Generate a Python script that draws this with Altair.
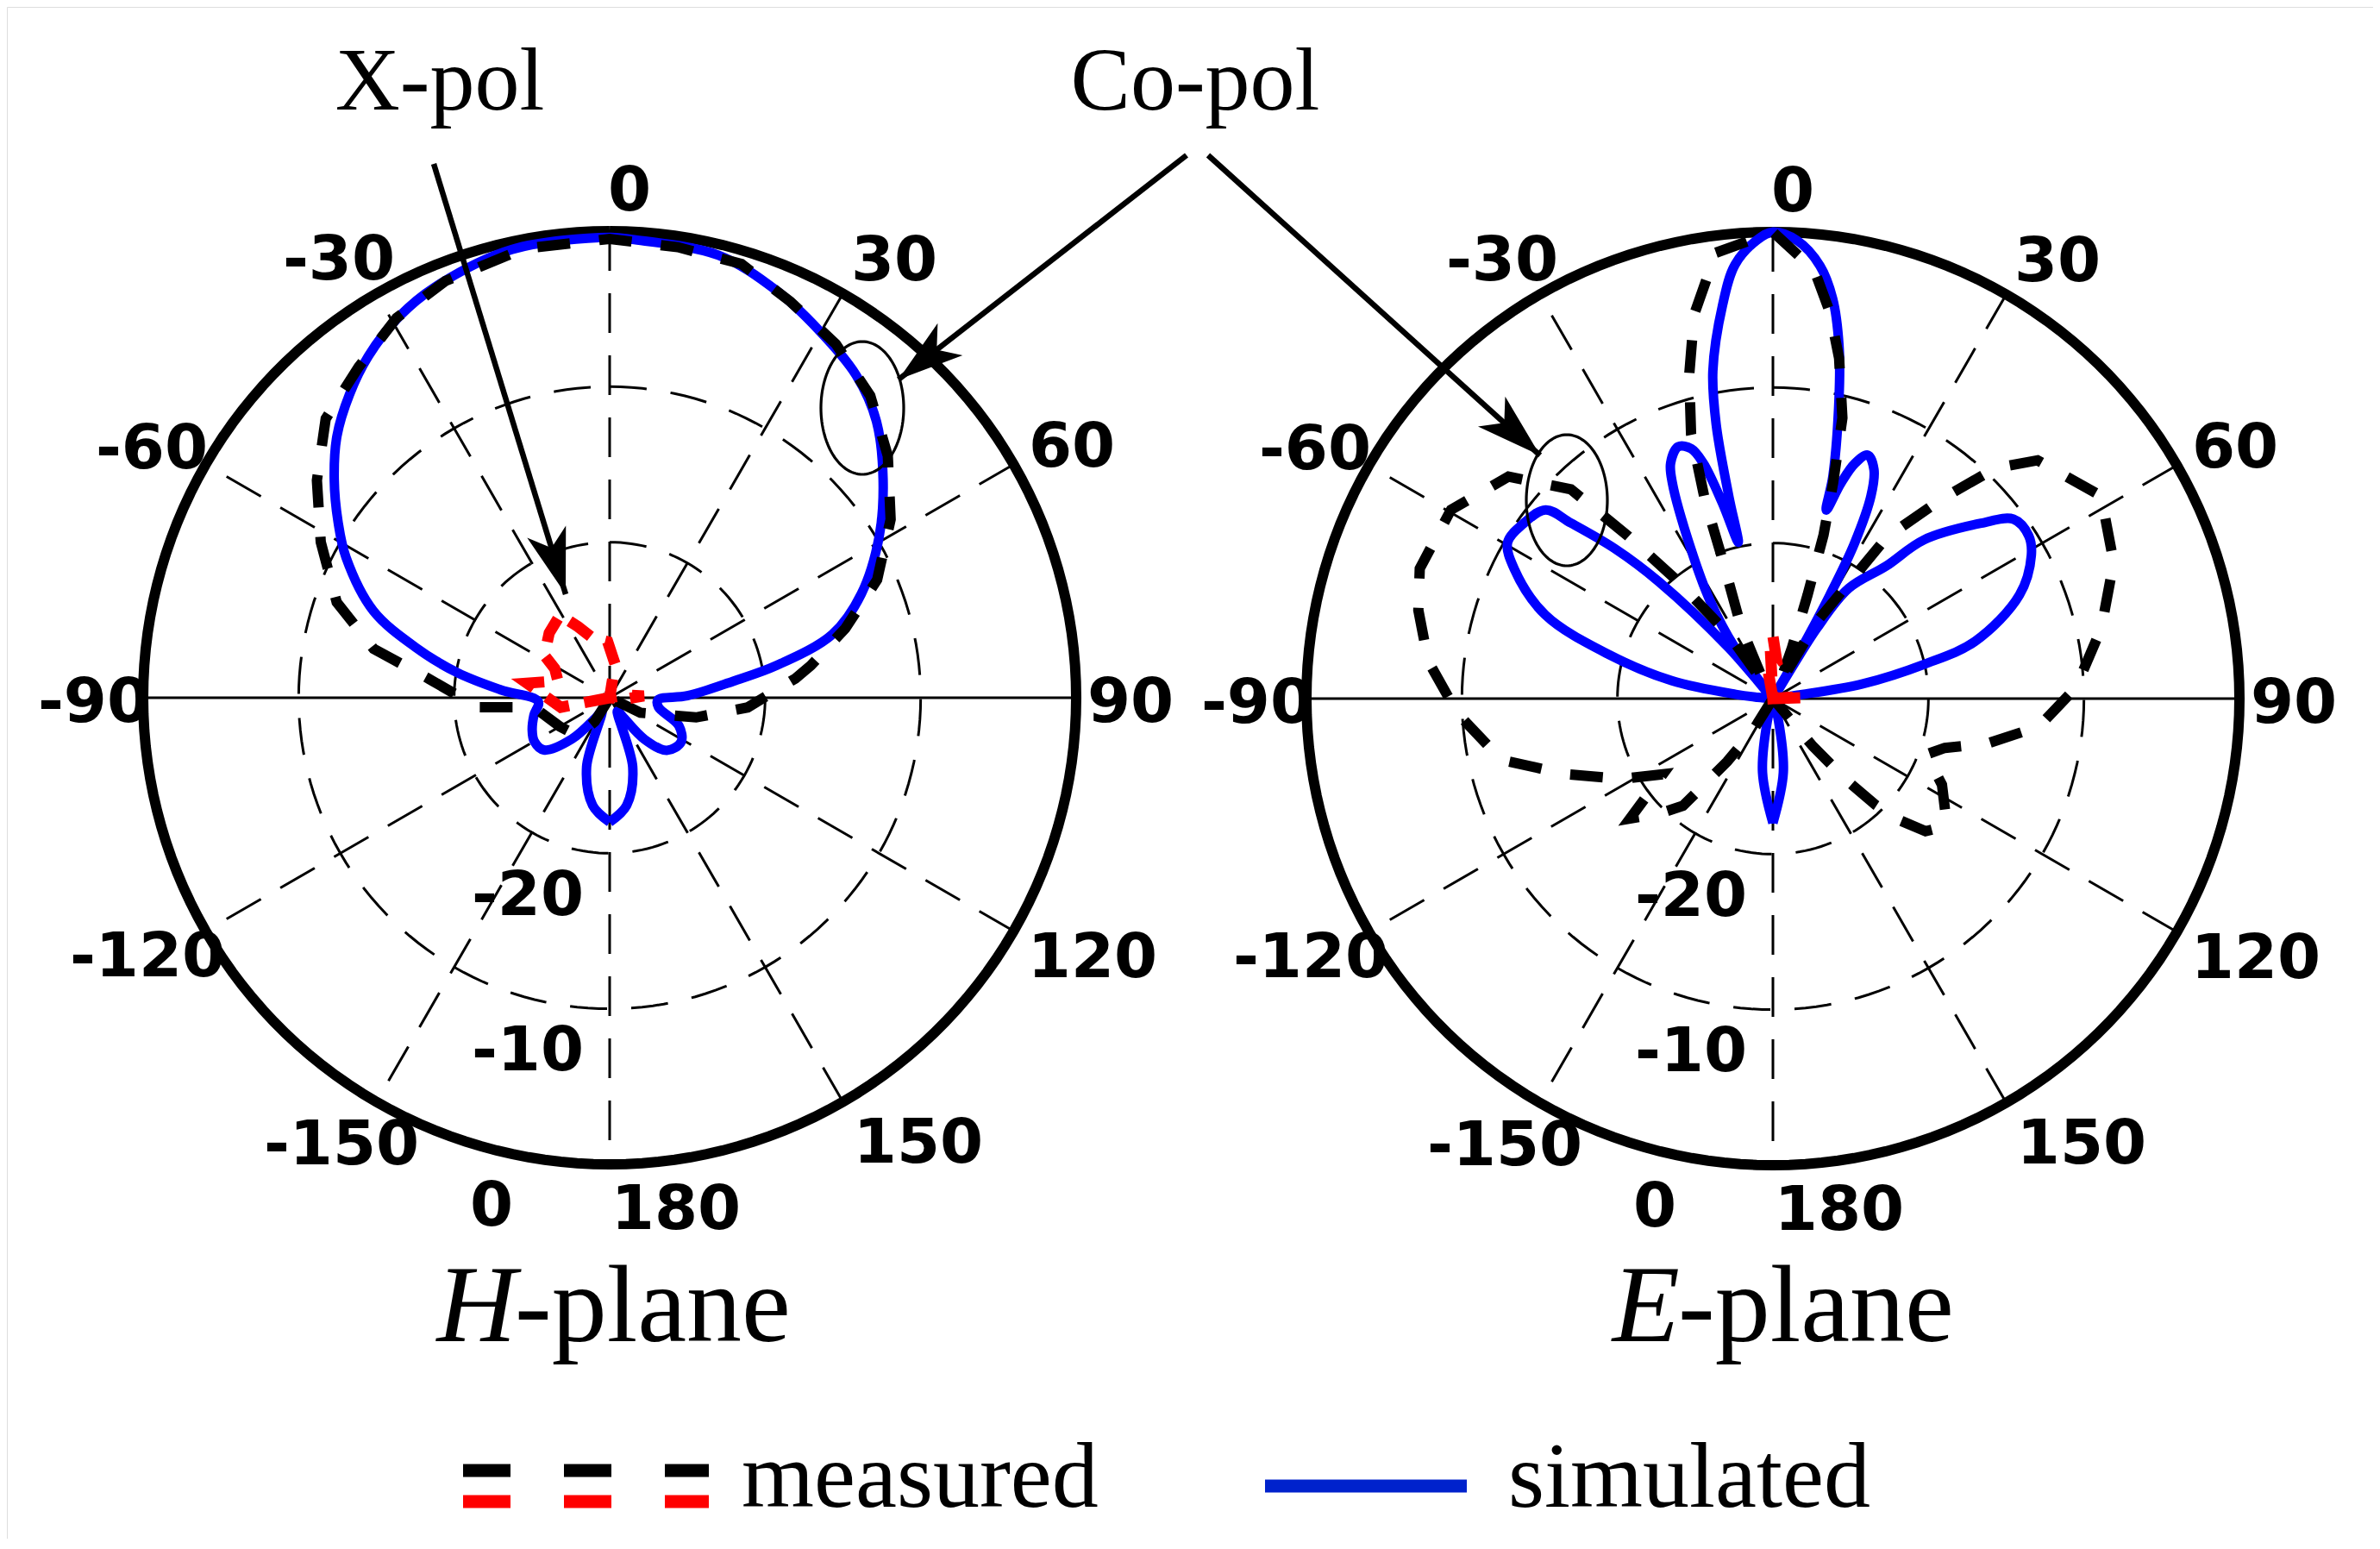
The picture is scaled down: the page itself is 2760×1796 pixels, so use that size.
import altair as alt
import pandas as pd
import numpy as np

# ---------------- data (angle in degrees, level in dB) ----------------
H_SIM_ANG = [-180, -171, -161.6, -150, -145, -137.5, -128.4, -120, -112.7, -103, -93, -85.9, -80.7, -75.6,
             -69.8, -62, -57.1, -51.6, -46.2, -40.6, -35.2, -28.9, -23, -12.3, 0, 2.8, 13.8, 22.2, 29.6, 37.4,
             44, 51.4, 59.1, 67.6, 74.1, 79.1, 82.4, 88.5, 92.7, 101, 112, 121.6, 132.6, 140, 145, 150, 161.6,
             171, 180]
H_SIM_DB = [-22, -23, -25.3, -29, -28.4, -26.4, -24.6, -24.4, -24.6, -25, -25.4, -23, -20.1, -17.2, -13.8,
            -10.8, -9.2, -7.4, -5.7, -4.3, -3.1, -2.0, -1.3, -0.5, -0.4, -0.5, -0.7, -1.7, -2.8, -3.9, -5.3,
            -7.5, -9.8, -12.5, -15.1, -19.1, -22, -25, -26.9, -26.8, -25.2, -24.6, -25, -26.5, -28.4, -29,
            -25.3, -23, -22]

H_MEAS_ANG = [-160, -148, -140, -120, -97.2, -94.1, -84, -78.3, -70.7, -61.7, -53.4, -45.5, -37.2, -29.3,
              -21.5, -10.8, 0, 8.6, 16.9, 24.5, 32.6, 40.8, 49, 57.6, 66.2, 73.6, 80.9, 84.1, 94, 102.8, 116,
              125, 135]
H_MEAS_DB = [-31, -28.2, -26.8, -26.3, -25.1, -21.5, -18.3, -14.5, -11.4, -8.9, -6.55, -4.4, -3.3, -2, -1.2,
             -0.6, -0.5, -0.7, -0.85, -2, -3, -4.35, -6.3, -8.6, -11.2, -14.2, -16.9, -18, -21.1, -24.3, -27.8,
             -31, -31]

H_XPOL_ANG = [-120, -101, -90, -80, -72, -62, -57, -43, -31, -24, -16, -2, 9, 20, 60, 80, 87, 95, 110]
H_XPOL_DB = [-31, -26.8, -26, -24.6, -26.5, -26, -25, -24.3, -23.8, -25, -26, -26.4, -27.8, -31, -31, -29,
             -27.8, -29, -31]

E_SIM_ANG = [-180, -172, -166, -160, -90, -85, -83.5, -80, -75, -69.8, -63.4, -59.5, -55, -50.3, -49, -46.5,
             -44.3, -41, -38.5, -36.7, -32.7, -28.7, -25, -23.5, -20.6, -18.1, -16.5, -14.5, -12.5, -12.3,
             -11.7, -10.4, -7.3, -5, -2, 0, 3, 6.2, 8.5, 10.6, 12.4, 15.1, 15.8, 17.5, 19.2, 21.3, 23.8, 25.8,
             27.7, 28.8, 29.8, 31, 32, 34.5, 40.5, 43.6, 49.9, 53.3, 57.5, 61, 67.2, 74.2, 77.2, 80.7, 82, 85,
             160, 166, 172, 180]
E_SIM_DB = [-22, -25.2, -28.5, -31, -31, -29, -27.6, -23.4, -19.1, -14.4, -11.4, -10.2, -10.4, -11, -12.8, -16,
            -19.5, -25.7, -30, -25.9, -22.5, -19, -14.7, -13.5, -12.7, -13.1, -14.2, -17, -19.7, -16.7, -12,
            -8.6, -4.5, -2, -0.5, 0, -0.5, -2, -4, -6.9, -10.2, -15.2, -17.4, -15.5, -14, -13.2, -13.9, -15.5,
            -18.7, -22.4, -26.7, -30, -24.7, -21.4, -18.8, -15.9, -12.5, -10.7, -10.5, -11, -12.8, -16.5, -20,
            -24.2, -28.4, -31, -31, -28.5, -25.2, -22]

E_MEAS_ANG = [-180, -158, -148, -144, -140, -135, -130, -124.5, -118, -110, -102.7, -92.7, -83.8, -76, -69.8,
              -59.6, -50, -44, -41.7, -39, -34.6, -30, -24, -19.9, -18.9, -17.2, -14.5, -11.6, -7.3, 0, 5.5,
              8.4, 11, 13.9, 15.6, 17.2, 18.5, 20.5, 24, 29.7, 32.7, 35.2, 40.2, 44, 48, 58.3, 68.2, 77.9, 87.9,
              96, 101.8, 106, 110, 117, 124, 127, 131, 134, 136, 138, 140, 143, 180]
E_MEAS_DB = [-31, -31, -27.6, -25, -21, -19.5, -18, -21.4, -19, -15.8, -12.1, -9.7, -7.7, -6.5, -5.8, -6, -7.8,
             -11.3, -16, -20.3, -25, -29, -25, -20.4, -16.5, -12.2, -8.5, -4.8, -1.1, 0, -2.3, -4.9, -7.7,
             -11.4, -15.6, -19, -23, -26.5, -29, -24.3, -21.9, -17.3, -13.2, -9.4, -7.1, -5.2, -6.4, -8.4,
             -10.5, -12.8, -15.9, -18.5, -19.5, -17.8, -16.6, -16.3, -17, -18.8, -20.5, -23, -26, -30, -31]

E_XPOL_ANG = [-20, -10, 6, 0, -3, 10, 30, 85, 88, 95, 120]
E_XPOL_DB = [-31, -28, -27.6, -26, -26.5, -30, -31, -29, -28, -30, -31]

ANGLE_TICKS = ["0", "30", "60", "90", "120", "150", "180", "-150", "-120", "-90", "-60", "-30"]
RADIAL_TICKS = ["-20", "-10", "0"]
RADIAL_LEVELS = [-20, -10]
SPOKES = [0, 30, 60, 120, 150]

# ---------------- layout constants ----------------
K = 541 / 30.0                     # pixels per dB of radius
FLOOR = -30
PANELS = {"H": (707, 809), "E": (2056, 810)}
ANG_OFF = [(23, -589), (330, -508), (536, -292), (604, 4), (560, 300), (358, 515), (77, 592),
           (-311, 517), (-536, 299), (-598, 4), (-531, -290), (-314, -509)]
RAD_OFF = [(-95, 228), (-95, 408), (-137, 588)]

XS = alt.Scale(domain=[8, 2752], nice=False, zero=False)
YS = alt.Scale(domain=[8, 1784], nice=False, zero=False, reverse=True)

PX = f"datum.cx + {K} * (max(datum.db, {FLOOR}) - ({FLOOR})) * sin(datum.ang * PI / 180)"
PY = f"datum.cy - {K} * (max(datum.db, {FLOOR}) - ({FLOOR})) * cos(datum.ang * PI / 180)"


def curve_table(ang, db, panel):
    cx, cy = PANELS[panel]
    return pd.DataFrame({"ang": ang, "db": db, "cx": cx, "cy": cy, "panel": panel,
                         "i": range(len(ang))})


def polar_line(df, **mark):
    return alt.Chart(df).mark_line(**mark).transform_calculate(px=PX, py=PY).encode(
        x=alt.X("px:Q", scale=XS, axis=None),
        y=alt.Y("py:Q", scale=YS, axis=None),
        detail="key:N",
        order="i:Q",
    )


# ---------------- grid ----------------
circ_rows = []
theta = np.linspace(0, 360, 181)
for p, (cx, cy) in PANELS.items():
    for lev in RADIAL_LEVELS + [0]:
        for j, a in enumerate(theta):
            circ_rows.append({"ang": a, "db": lev, "cx": cx, "cy": cy, "i": j, "key": f"{p}{lev}"})
circ = pd.DataFrame(circ_rows)

dashed_circles = polar_line(circ[circ.db < 0], color="black", strokeWidth=3, strokeDash=[43, 28])
outer_circles = polar_line(circ[circ.db == 0], color="black", strokeWidth=12)

spoke_rows = []
for p, (cx, cy) in PANELS.items():
    for a in SPOKES + [90]:
        spoke_rows.append({"ang": a, "cx": cx, "cy": cy, "solid": a == 90})
spk = pd.DataFrame(spoke_rows)
SX1 = f"datum.cx + {K * 30} * sin(datum.ang * PI / 180)"
SY1 = f"datum.cy - {K * 30} * cos(datum.ang * PI / 180)"
SX2 = f"datum.cx - {K * 30} * sin(datum.ang * PI / 180)"
SY2 = f"datum.cy + {K * 30} * cos(datum.ang * PI / 180)"


def spoke_layer(df, **mark):
    return alt.Chart(df).mark_rule(**mark).transform_calculate(
        x1=SX1, y1=SY1, x2=SX2, y2=SY2).encode(
        x=alt.X("x1:Q", scale=XS, axis=None), y=alt.Y("y1:Q", scale=YS, axis=None),
        x2="x2:Q", y2="y2:Q")


spokes_d = spoke_layer(spk[~spk.solid], color="black", strokeWidth=3, strokeDash=[46, 26])
spokes_s = spoke_layer(spk[spk.solid], color="black", strokeWidth=3)

# ---------------- curves ----------------
sim = pd.concat([curve_table(H_SIM_ANG, H_SIM_DB, "H"), curve_table(E_SIM_ANG, E_SIM_DB, "E")])
sim["key"] = sim["panel"]
meas = pd.concat([curve_table(H_MEAS_ANG, H_MEAS_DB, "H"), curve_table(E_MEAS_ANG, E_MEAS_DB, "E")])
meas["key"] = meas["panel"]
xpol = pd.concat([curve_table(H_XPOL_ANG, H_XPOL_DB, "H"), curve_table(E_XPOL_ANG, E_XPOL_DB, "E")])
xpol["key"] = xpol["panel"]

sim_h = polar_line(sim[sim.panel == "H"], color="#0000ff", strokeWidth=11, interpolate="catmull-rom",
                   strokeJoin="round")
sim_e = polar_line(sim[sim.panel == "E"], color="#0000ff", strokeWidth=11, interpolate="catmull-rom",
                   strokeJoin="round")
meas_layer = polar_line(meas, color="black", strokeWidth=12, strokeDash=[38, 34], strokeCap="butt")
xpol_layer = polar_line(xpol, color="#ff0000", strokeWidth=13, strokeDash=[30, 18], strokeCap="butt")

# ---------------- tick labels ----------------
lab_rows = []
for p, (cx, cy) in PANELS.items():
    for t, (dx, dy) in zip(ANGLE_TICKS, ANG_OFF):
        lab_rows.append({"t": t, "x": cx + dx, "y": cy + dy})
    for t, (dx, dy) in zip(RADIAL_TICKS, RAD_OFF):
        lab_rows.append({"t": t, "x": cx + dx, "y": cy + dy})
labels = alt.Chart(pd.DataFrame(lab_rows)).mark_text(
    font="DejaVu Sans", fontWeight="bold", fontSize=72, align="center", baseline="middle", dy=2
).encode(x=alt.X("x:Q", scale=XS, axis=None), y=alt.Y("y:Q", scale=YS, axis=None), text="t:N")

# ---------------- titles ----------------
TITLE_LETTERS = ["H", "E"]
tl = pd.DataFrame({"t": TITLE_LETTERS, "x": [PANELS[p][0] - 108 for p in TITLE_LETTERS], "y": 1555})
tr = pd.DataFrame({"t": ["-plane", "-plane"], "x": [PANELS[p][0] - 110 for p in TITLE_LETTERS], "y": 1555})
title_l = alt.Chart(tl).mark_text(font="Liberation Serif", fontStyle="italic", fontSize=128, align="right",
                                  baseline="alphabetic").encode(
    x=alt.X("x:Q", scale=XS, axis=None), y=alt.Y("y:Q", scale=YS, axis=None), text="t:N")
title_r = alt.Chart(tr).mark_text(font="Liberation Serif", fontSize=128, align="left",
                                  baseline="alphabetic").encode(
    x=alt.X("x:Q", scale=XS, axis=None), y=alt.Y("y:Q", scale=YS, axis=None), text="t:N")

# ---------------- annotations ----------------
ann = pd.DataFrame({"t": ["X-pol", "Co-pol"], "x": [510, 1386], "y": [127, 127]})
ann_text = alt.Chart(ann).mark_text(font="Liberation Serif", fontSize=104, align="center",
                                    baseline="alphabetic").encode(
    x=alt.X("x:Q", scale=XS, axis=None), y=alt.Y("y:Q", scale=YS, axis=None), text="t:N")

arrows = pd.DataFrame({"x": [503, 1376, 1401], "y": [190, 180, 180],
                       "x2": [656, 1042, 1786], "y2": [689, 440, 528]})
arrows["ang"] = np.degrees(np.arctan2(arrows.x2 - arrows.x, -(arrows.y2 - arrows.y))) % 360
arrow_lines = alt.Chart(arrows).mark_rule(color="black", strokeWidth=6.5).encode(
    x=alt.X("x:Q", scale=XS, axis=None), y=alt.Y("y:Q", scale=YS, axis=None), x2="x2:Q", y2="y2:Q")
HEAD = "M0,0 L0.31,1 L0,0.74 L-0.31,1 Z"
arrow_heads = alt.Chart(arrows).mark_point(shape=HEAD, filled=True, color="black", opacity=1,
                                           size=23000, strokeWidth=0).encode(
    x=alt.X("x2:Q", scale=XS, axis=None), y=alt.Y("y2:Q", scale=YS, axis=None),
    angle=alt.Angle("ang:Q", scale=None))

ell_rows = []
tt = np.linspace(0, 2 * np.pi, 121)
for k, (ex, ey, a, b) in enumerate([(1000, 473, 48, 77), (1817, 580, 47, 76)]):
    for j, t in enumerate(tt):
        ell_rows.append({"x": ex + a * np.cos(t), "y": ey + b * np.sin(t), "i": j, "key": k})
ellipses = alt.Chart(pd.DataFrame(ell_rows)).mark_line(color="black", strokeWidth=3.2).encode(
    x=alt.X("x:Q", scale=XS, axis=None), y=alt.Y("y:Q", scale=YS, axis=None), detail="key:N", order="i:Q")

# ---------------- legend ----------------
leg_lines = pd.DataFrame({"x": [537, 537, 1467], "x2": [822, 822, 1701], "y": [1705, 1741, 1723],
                          "kind": ["black", "red", "blue"]})
leg_dash = alt.Chart(leg_lines[leg_lines.kind != "blue"]).mark_rule(strokeWidth=15, strokeDash=[55, 62],
                                                                    strokeCap="butt").encode(
    x=alt.X("x:Q", scale=XS, axis=None), y=alt.Y("y:Q", scale=YS, axis=None), x2="x2:Q",
    color=alt.Color("kind:N", scale=alt.Scale(domain=["black", "red"], range=["black", "#ff0000"]),
                    legend=None))
leg_solid = alt.Chart(leg_lines[leg_lines.kind == "blue"]).mark_rule(strokeWidth=15, color="#0022cc").encode(
    x=alt.X("x:Q", scale=XS, axis=None), y=alt.Y("y:Q", scale=YS, axis=None), x2="x2:Q")
leg_txt = alt.Chart(pd.DataFrame({"t": ["measured", "simulated"], "x": [860, 1749], "y": [1747, 1747]})
                    ).mark_text(font="Liberation Serif", fontSize=108, align="left", baseline="alphabetic").encode(
    x=alt.X("x:Q", scale=XS, axis=None), y=alt.Y("y:Q", scale=YS, axis=None), text="t:N")

chart = alt.layer(
    dashed_circles, spokes_d, spokes_s, outer_circles,
    sim_h, sim_e, meas_layer, xpol_layer,
    ellipses, arrow_lines, arrow_heads,
    labels, title_l, title_r, ann_text,
    leg_dash, leg_solid, leg_txt,
).properties(width=2744, height=1776, padding=0, autosize=alt.AutoSizeParams(type="none")
             ).configure_view(stroke=None).configure(background="white")

chart.save("out.html", embed_options={"renderer": "svg", "actions": False})
